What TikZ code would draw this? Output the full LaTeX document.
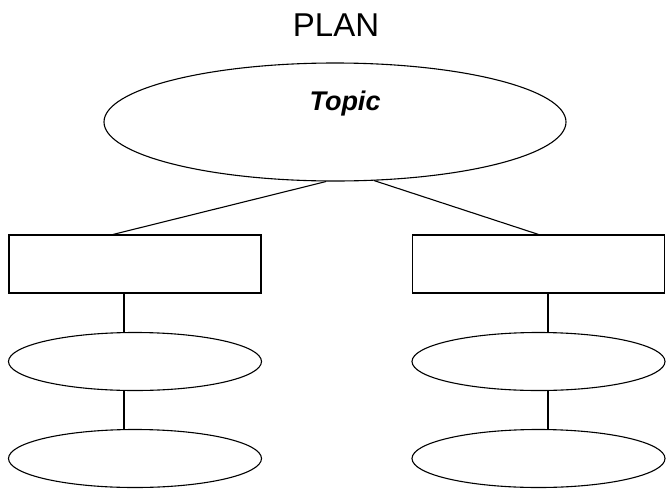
\documentclass[tikz,border=0pt]{standalone}
\usepackage{fontspec}
\setmainfont{Liberation Sans}
\usepackage{tikz}
\usetikzlibrary{shapes.geometric}

\begin{document}
\begin{tikzpicture}[x=1pt,y=-1pt,line width=1.1pt,
    oval/.style={draw,ellipse,inner sep=0pt,minimum width=253pt,minimum height=58pt},
    box/.style={draw,rectangle,inner sep=0pt,minimum width=252pt,minimum height=58pt}]
            \useasboundingbox (0,0) rectangle (669,493);
            \node (title) at (336,25) {\fontsize{33}{36}\selectfont PLAN};
            \node[draw,ellipse,inner sep=0pt,minimum width=462pt,minimum height=118pt] (topic) at (335,122) {};
            \node (topictext) at (345,104) {\fontsize{27}{30}\selectfont\bfseries\itshape Topic};
            \node[box] (boxL) at (135,264) {};
            \node[box] (boxR) at (538.5,264) {};
            \node[oval] (ovalLa) at (135,361.5) {};
            \node[oval] (ovalLb) at (135,458.5) {};
            \node[oval] (ovalRa) at (538.5,361.5) {};
            \node[oval] (ovalRb) at (538.5,458.5) {};
            \draw ([xshift=-9pt]topic.south) --([xshift=-22pt]boxL.north);
            \draw ([xshift=39pt,yshift=1pt]topic.south) --(boxR.north);
            \draw ([xshift=-11pt]boxL.south) --([xshift=-11pt]ovalLa.north);
            \draw ([xshift=-11pt]ovalLa.south) --([xshift=-11pt]ovalLb.north);
            \draw ([xshift=9.5pt]boxR.south) --([xshift=9.5pt]ovalRa.north);
            \draw ([xshift=9.5pt]ovalRa.south) --([xshift=9.5pt]ovalRb.north);
\end{tikzpicture}
\end{document}
